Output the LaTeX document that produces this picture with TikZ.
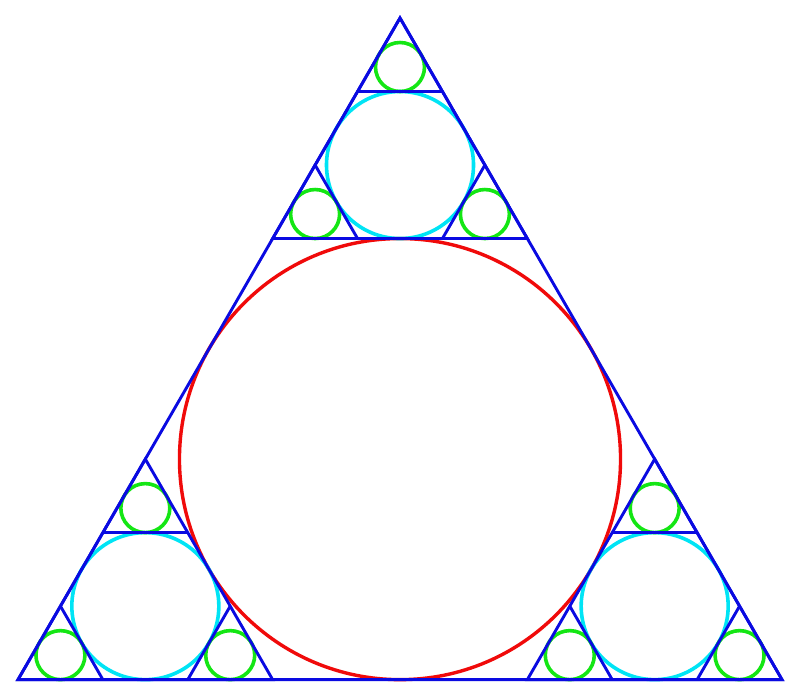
\documentclass[tikz,border=0pt]{standalone}
\usepackage{tikz}
\usetikzlibrary{calc}
\definecolor{lineblue}{RGB}{10,10,225}
\definecolor{ringred}{RGB}{240,10,10}
\definecolor{ringcyan}{RGB}{0,228,245}
\definecolor{ringgreen}{RGB}{20,230,20}

\begin{document}
\begin{tikzpicture}[x=1pt,y=-1pt]

  % Set up styles for the triangles and the circles
  \tikzset{
      edge/.style={draw=lineblue, line width=2.9pt},
      bigring/.style={draw=ringred, line width=3.4pt},
      midring/.style={draw=ringcyan, line width=3.6pt},
      smallring/.style={draw=ringgreen, line width=3.6pt}
  }

  \useasboundingbox[fill=white] (0,0) rectangle (800,699);

  % corners of the outer triangle and its centre
  \coordinate (A) at (400,18);
  \coordinate (B) at (18,679.63);
  \coordinate (C) at (782,679.63);
  \coordinate (G) at (400,459.09);

  \draw[bigring] (G) circle[radius=220.54pt];

  % one third sized triangle in each corner
  \foreach \v/\p/\q in {A/B/C, B/C/A, C/A/B} {
      \coordinate (s\v0) at (\v);
      \coordinate (s\v1) at ($(\v)!1/3!(\p)$);
      \coordinate (s\v2) at ($(\v)!1/3!(\q)$);
      \coordinate (g\v) at ($(\v)!1/3!(G)$);
      \draw[midring] (g\v) circle[radius=73.51pt];
      % and one ninth sized triangles in its corners
      \foreach \i/\j/\k in {0/1/2, 1/2/0, 2/0/1} {
          \draw[smallring] ($(s\v\i)!1/3!(g\v)$) circle[radius=24.50pt];
      }
  }

  % blue sides and cuts on top of the circles
  \draw[edge] (A) -- (B) -- (C) -- cycle;
  \foreach \v in {A, B, C} {
      \draw[edge] (s\v1) -- (s\v2) -- (s\v0) -- cycle;
      \foreach \i/\j/\k in {0/1/2, 1/2/0, 2/0/1} {
          \draw[edge] ($(s\v\i)!1/3!(s\v\j)$) -- ($(s\v\i)!1/3!(s\v\k)$);
      }
  }

\end{tikzpicture}
\end{document}
